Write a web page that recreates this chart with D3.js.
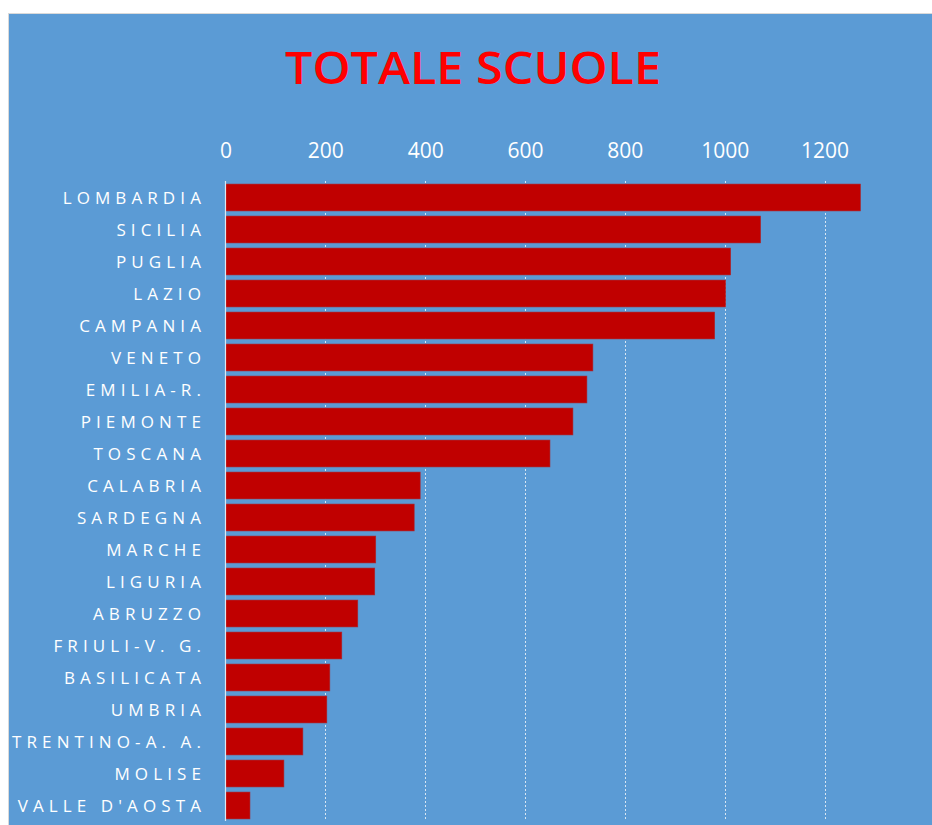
<!DOCTYPE html>
<html>
<head>
<meta charset="utf-8">
<script src="https://cdn.jsdelivr.net/npm/d3@7"></script>
<style>
  body { margin: 0; background: #fff; }
  text { font-family: "Open Sans", sans-serif; }
</style>
</head>
<body>
<script>
var regions = ["LOMBARDIA", "SICILIA", "PUGLIA", "LAZIO", "CAMPANIA", "VENETO", "EMILIA-R.",
    "PIEMONTE", "TOSCANA", "CALABRIA", "SARDEGNA", "MARCHE", "LIGURIA", "ABRUZZO",
    "FRIULI-V. G.", "BASILICATA", "UMBRIA", "TRENTINO-A. A.", "MOLISE", "VALLE D'AOSTA"];
var schools = [1272, 1072, 1012, 1002, 980, 736, 724, 696, 650, 390, 378, 301, 299, 265,
    233, 209, 203, 155, 117, 49];
var tickValues = [0, 200, 400, 600, 800, 1000, 1200];

var width = 932, height = 825;

var svg = d3.select("body").append("svg")
    .attr("width", width)
    .attr("height", height);

svg.append("rect")
    .attr("x", 8.5)
    .attr("y", 13.5)
    .attr("width", width - 8)
    .attr("height", height - 13)
    .attr("fill", "#5B9BD5")
    .attr("stroke", "#d9d9d9")
    .attr("stroke-width", 1);

svg.append("text")
    .attr("x", 473)
    .attr("y", 84)
    .attr("text-anchor", "middle")
    .attr("fill", "#FF0000")
    .attr("font-weight", 600)
    .style("font-size", "46px")
    .attr("textLength", 376)
    .attr("lengthAdjust", "spacingAndGlyphs")
    .text("TOTALE SCUOLE");

var x = d3.scaleLinear().domain([0, 1200]).range([225.5, 824.5]);
var y = d3.scaleBand().domain(regions).range([181.5, 821.5])
    .paddingInner(0.16).paddingOuter(0.08);

// dotted gridlines
svg.selectAll(".grid")
    .data(tickValues.slice(1))
    .enter().append("line")
    .attr("class", "grid")
    .attr("x1", d => Math.round(x(d)) + 0.5)
    .attr("x2", d => Math.round(x(d)) + 0.5)
    .attr("y1", 181)
    .attr("y2", 821)
    .attr("stroke", "#d9e6f3")
    .attr("stroke-width", 1)
    .attr("stroke-dasharray", "2,2");

var xAxis = d3.axisTop(x).tickValues(tickValues).tickSize(0).tickPadding(0)
    .tickFormat(d3.format("d"));

var gx = svg.append("g")
    .attr("transform", "translate(0,158)")
    .call(xAxis);
gx.select(".domain").remove();
gx.selectAll("text")
    .attr("fill", "#fff")
    .attr("dy", 0)
    .style("font-size", "21px");

svg.selectAll(".bar")
    .data(schools)
    .enter().append("rect")
    .attr("class", "bar")
    .attr("x", x(0))
    .attr("y", (d, i) => y(regions[i]))
    .attr("width", d => x(d) - x(0))
    .attr("height", y.bandwidth())
    .attr("fill", "#C00000")
    .attr("stroke", "#a8262e")
    .attr("stroke-width", 0.6);

// vertical axis line
svg.append("line")
    .attr("x1", 225.5).attr("x2", 225.5)
    .attr("y1", 181).attr("y2", 821)
    .attr("stroke", "#dce8f5")
    .attr("stroke-width", 1.2);

svg.selectAll(".label")
    .data(regions)
    .enter().append("text")
    .attr("class", "label")
    .attr("x", 206)
    .attr("y", d => y(d) + y.bandwidth() / 2 + 6.5)
    .attr("text-anchor", "end")
    .attr("fill", "#fff")
    .style("font-size", "17px")
    .style("letter-spacing", "5.1px")
    .text(d => d);
</script>
</body>
</html>
